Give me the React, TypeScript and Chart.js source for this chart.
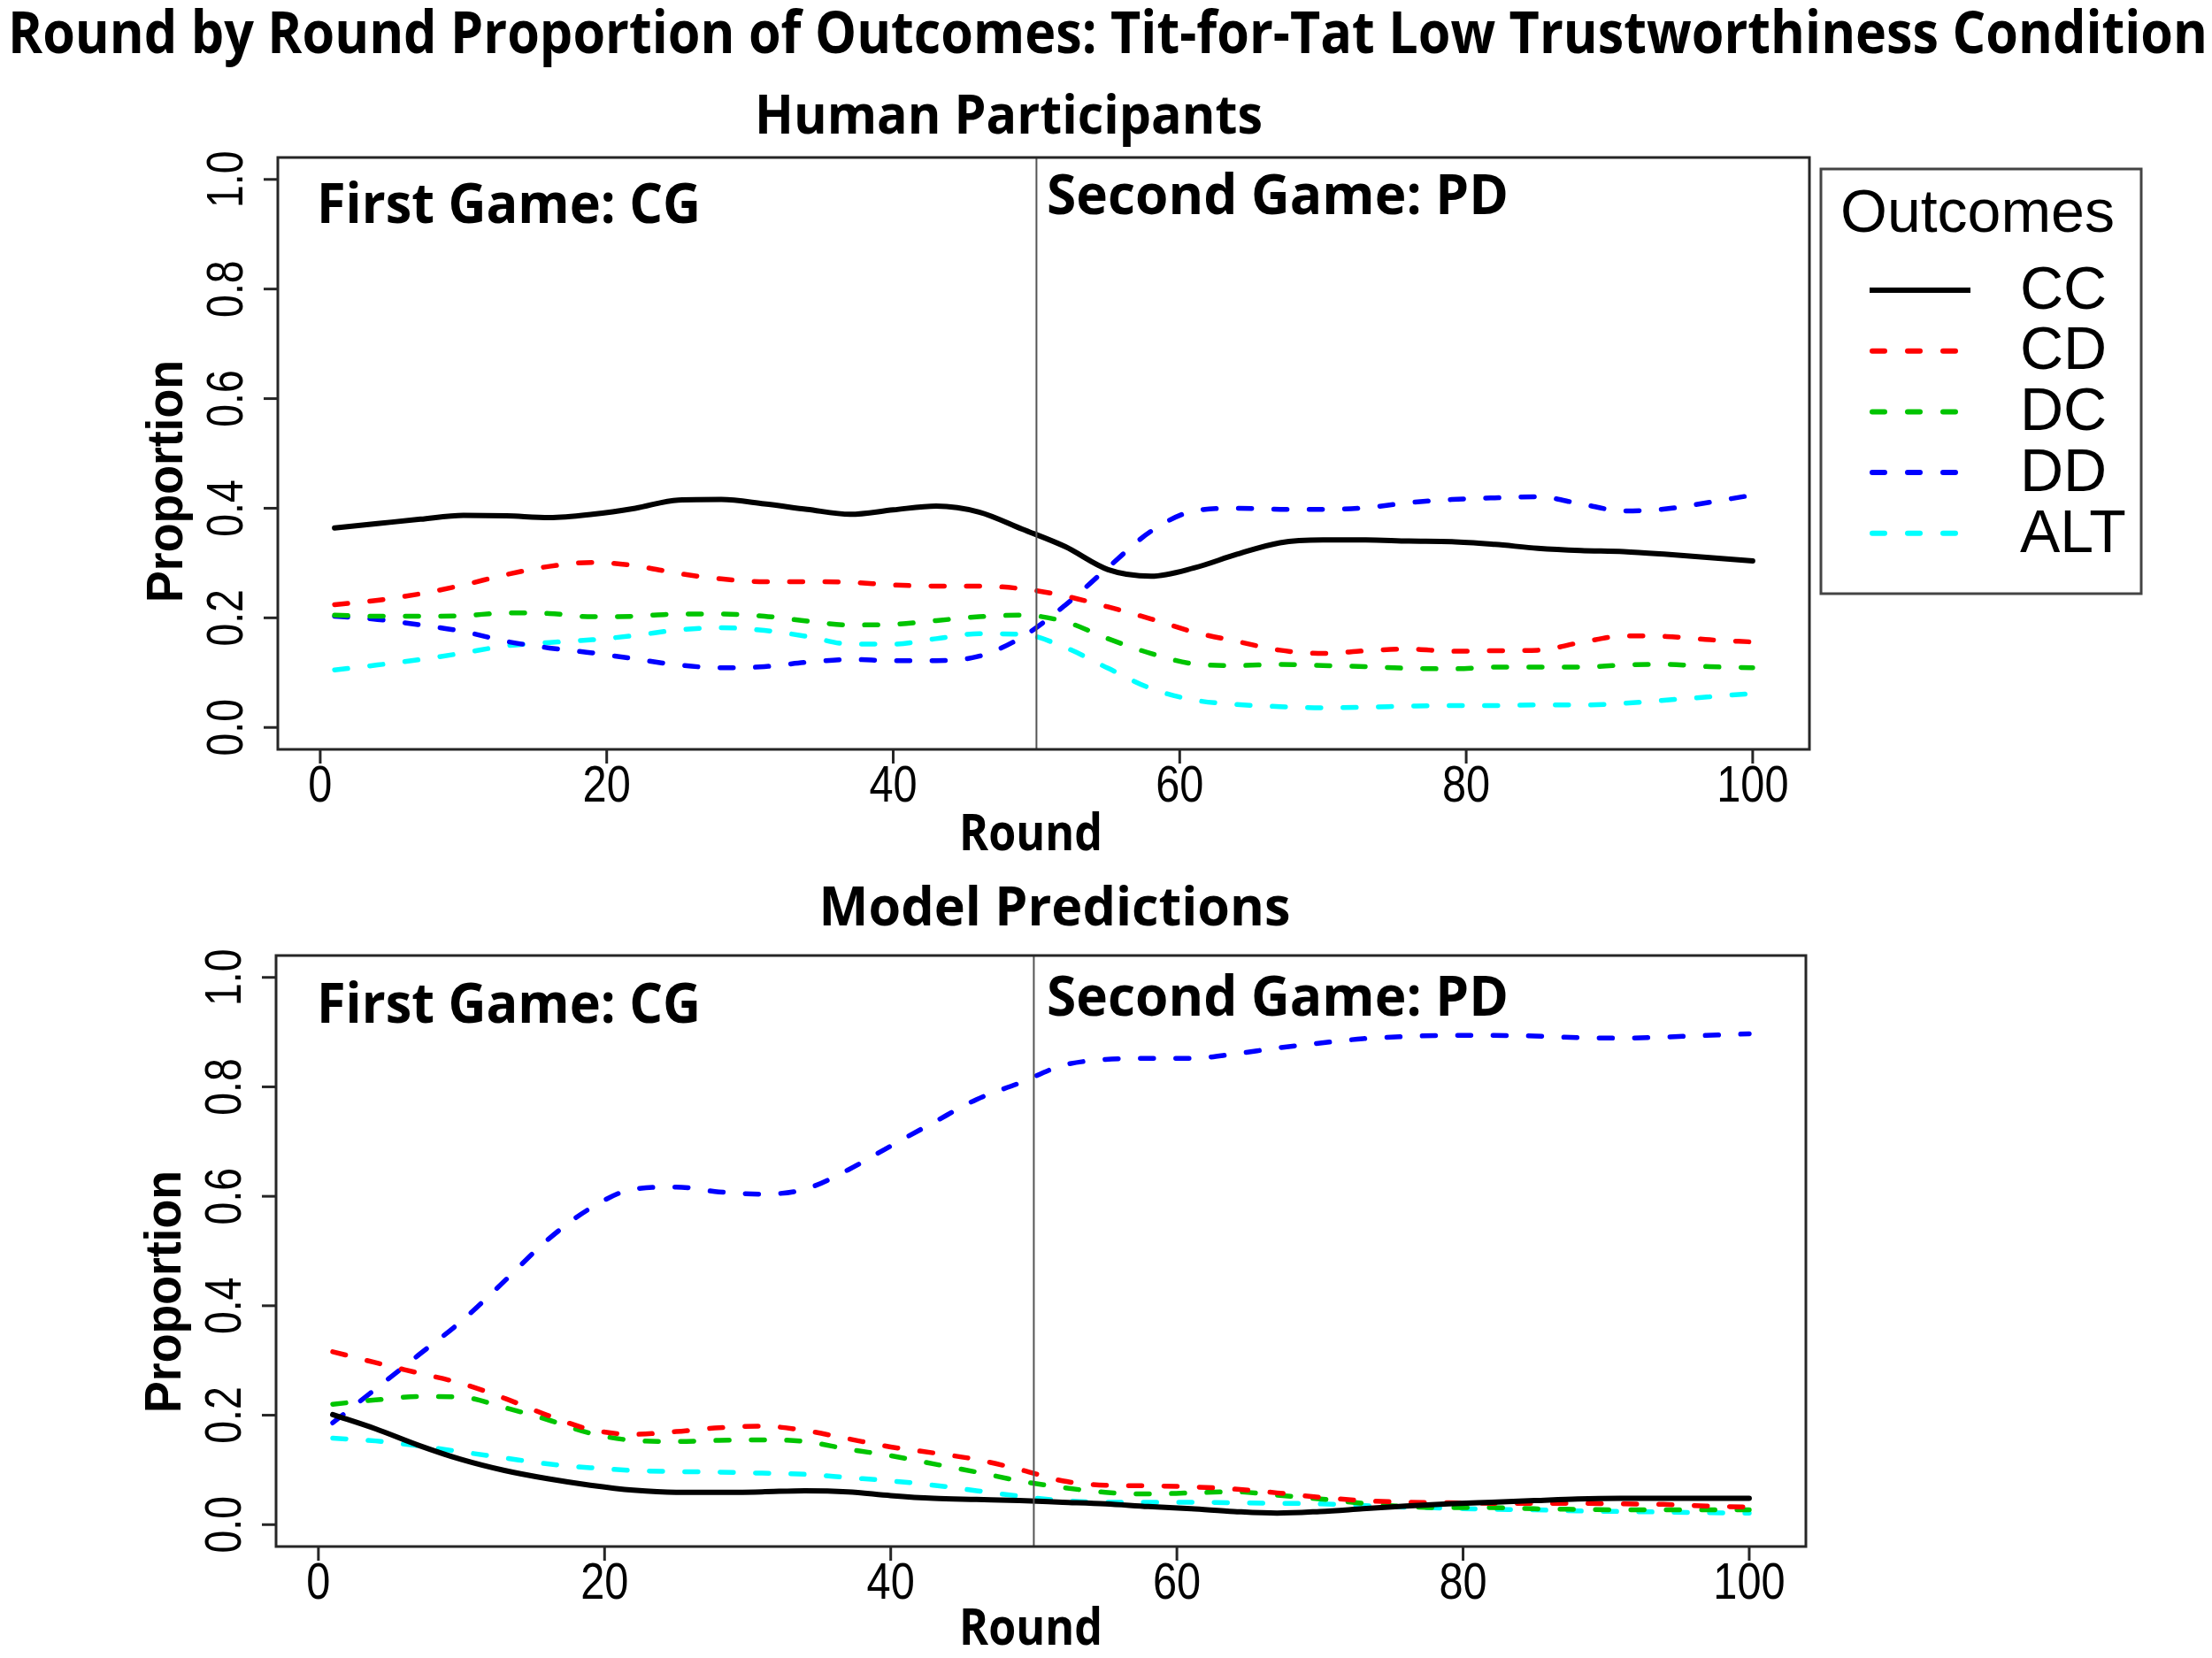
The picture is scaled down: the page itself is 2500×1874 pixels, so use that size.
import React, { useEffect, useRef } from "react";
import { Chart, registerables } from "chart.js";

Chart.register(...registerables);

// ---------------- DATA ----------------
const ROUNDS = [1, 4, 7, 10, 13, 16, 19, 22, 25, 28, 31, 34, 37, 40, 43, 46, 49, 52, 55, 58, 61, 64, 67, 70, 73, 76, 79, 82, 85, 88, 91, 94, 97, 100];

const SERIES_NAMES = ["CC", "CD", "DC", "DD", "ALT"];
const SERIES_COLORS = ["#000000", "#FF0000", "#00C400", "#0000FF", "#00FFFF"];

// Human Participants
const HUMAN_CC = [0.364, 0.372, 0.380, 0.387, 0.386, 0.383, 0.389, 0.400, 0.415, 0.416, 0.408, 0.398, 0.389, 0.397, 0.404, 0.393, 0.362, 0.330, 0.288, 0.276, 0.291, 0.316, 0.337, 0.342, 0.342, 0.340, 0.339, 0.334, 0.327, 0.323, 0.321, 0.316, 0.310, 0.304];
const HUMAN_CD = [0.224, 0.232, 0.244, 0.260, 0.279, 0.294, 0.301, 0.295, 0.281, 0.271, 0.266, 0.266, 0.265, 0.260, 0.258, 0.258, 0.253, 0.240, 0.220, 0.198, 0.174, 0.157, 0.141, 0.135, 0.140, 0.143, 0.139, 0.140, 0.141, 0.155, 0.167, 0.166, 0.160, 0.156];
const HUMAN_DC = [0.205, 0.203, 0.203, 0.204, 0.209, 0.208, 0.202, 0.203, 0.207, 0.207, 0.203, 0.194, 0.187, 0.188, 0.195, 0.202, 0.205, 0.193, 0.162, 0.135, 0.116, 0.113, 0.115, 0.113, 0.111, 0.108, 0.107, 0.110, 0.110, 0.110, 0.114, 0.115, 0.111, 0.109];
const HUMAN_DD = [0.203, 0.197, 0.187, 0.175, 0.157, 0.145, 0.136, 0.125, 0.114, 0.109, 0.111, 0.119, 0.124, 0.122, 0.122, 0.130, 0.165, 0.223, 0.292, 0.358, 0.395, 0.400, 0.398, 0.398, 0.401, 0.410, 0.416, 0.419, 0.421, 0.408, 0.395, 0.399, 0.411, 0.424];
const HUMAN_ALT = [0.105, 0.114, 0.124, 0.136, 0.149, 0.155, 0.160, 0.168, 0.178, 0.182, 0.177, 0.166, 0.152, 0.152, 0.162, 0.171, 0.170, 0.146, 0.108, 0.071, 0.050, 0.042, 0.038, 0.036, 0.037, 0.039, 0.040, 0.040, 0.041, 0.041, 0.044, 0.050, 0.056, 0.062];

// Model Predictions
const MODEL_CC = [0.201, 0.175, 0.145, 0.119, 0.099, 0.084, 0.072, 0.063, 0.059, 0.059, 0.060, 0.062, 0.060, 0.053, 0.048, 0.046, 0.044, 0.041, 0.038, 0.033, 0.029, 0.024, 0.021, 0.024, 0.029, 0.034, 0.038, 0.041, 0.044, 0.047, 0.048, 0.048, 0.048, 0.048];
const MODEL_CD = [0.316, 0.296, 0.277, 0.258, 0.231, 0.200, 0.174, 0.165, 0.170, 0.177, 0.180, 0.172, 0.157, 0.142, 0.131, 0.119, 0.101, 0.080, 0.072, 0.071, 0.069, 0.065, 0.058, 0.050, 0.044, 0.041, 0.040, 0.039, 0.039, 0.039, 0.038, 0.037, 0.034, 0.032];
const MODEL_DC = [0.220, 0.228, 0.234, 0.233, 0.214, 0.192, 0.167, 0.154, 0.152, 0.154, 0.155, 0.152, 0.138, 0.126, 0.111, 0.096, 0.080, 0.068, 0.059, 0.056, 0.058, 0.060, 0.054, 0.047, 0.039, 0.033, 0.031, 0.031, 0.029, 0.028, 0.027, 0.027, 0.027, 0.027];
const MODEL_DD = [0.186, 0.248, 0.310, 0.372, 0.445, 0.520, 0.578, 0.613, 0.617, 0.608, 0.604, 0.613, 0.648, 0.692, 0.735, 0.777, 0.807, 0.839, 0.850, 0.852, 0.852, 0.860, 0.871, 0.880, 0.888, 0.892, 0.894, 0.894, 0.893, 0.890, 0.889, 0.891, 0.894, 0.897];
const MODEL_ALT = [0.158, 0.153, 0.144, 0.133, 0.122, 0.111, 0.104, 0.099, 0.097, 0.096, 0.094, 0.092, 0.086, 0.080, 0.072, 0.062, 0.052, 0.044, 0.041, 0.041, 0.041, 0.040, 0.039, 0.038, 0.035, 0.032, 0.030, 0.028, 0.027, 0.025, 0.024, 0.023, 0.022, 0.021];

const X_TICKS = [0, 20, 40, 60, 80, 100];
const X_TICK_LABELS = ["0", "20", "40", "60", "80", "100"];
const Y_TICKS = [0, 0.2, 0.4, 0.6, 0.8, 1.0];
const Y_TICK_LABELS = ["0.0", "0.2", "0.4", "0.6", "0.8", "1.0"];
const GAME_SWITCH_ROUND = 50;

const MAIN_TITLE = "Round by Round Proportion of Outcomes: Tit-for-Tat Low Trustworthiness Condition";
const TOP_SUBTITLE = "Human Participants";
const BOTTOM_SUBTITLE = "Model Predictions";
const FIRST_GAME = "First Game: CG";
const SECOND_GAME = "Second Game: PD";
const X_TITLE = "Round";
const Y_TITLE = "Proportion";
const LEGEND_TITLE = "Outcomes";

// ---------------- STYLE ----------------
const TITLE_FONT = "'Open Sans', 'Noto Sans', sans-serif";
const AXIS_FONT = "'Liberation Sans', Arial, sans-serif";
const TITLE_WEIGHT = "bold";

function buildDatasets(series: number[][]) {
  return series.map((vals, i) => ({
    label: SERIES_NAMES[i],
    data: ROUNDS.map((r, j) => ({ x: r, y: vals[j] })),
    borderColor: SERIES_COLORS[i],
    backgroundColor: SERIES_COLORS[i],
    borderWidth: i === 0 ? 6 : 5.5,
    borderDash: i === 0 ? [] : [15, 25],
    borderCapStyle: "round" as const,
    borderJoinStyle: "round" as const,
    pointRadius: 0,
    cubicInterpolationMode: "monotone" as const,
    fill: false,
  }));
}

function fillCondensed(ctx: CanvasRenderingContext2D, text: string, x: number, y: number, ratio: number) {
  const w = ctx.measureText(text).width;
  ctx.fillText(text, x, y, w * ratio);
}

function fillFit(ctx: CanvasRenderingContext2D, text: string, x: number, y: number, maxW: number) {
  const w = ctx.measureText(text).width;
  if (w > maxW) ctx.fillText(text, x, y, maxW);
  else ctx.fillText(text, x, y);
}

type PanelLayout = {
  mainTitle?: { x: number; y: number; size: number; maxW: number };
  subTitle: { text: string; x: number; y: number; size: number; maxW: number };
  first: { x: number; y: number };
  second: { x: number; y: number };
  yTitleCenter: number;
  xTitleBaseline: number;
  legend?: boolean;
};

function makeDecor(layout: PanelLayout) {
  return {
    id: "rDecor",
    afterDatasetsDraw(chart: any) {
      const ctx: CanvasRenderingContext2D = chart.ctx;
      const ca = chart.chartArea;
      const xs = chart.scales.x;
      const ys = chart.scales.y;
      ctx.save();
      ctx.fillStyle = "#000";
      ctx.textBaseline = "alphabetic";

      // divider between games
      const xd = xs.getPixelForValue(GAME_SWITCH_ROUND);
      ctx.strokeStyle = "#555";
      ctx.lineWidth = 2;
      ctx.beginPath();
      ctx.moveTo(xd, ca.top);
      ctx.lineTo(xd, ca.bottom);
      ctx.stroke();

      // plot box
      ctx.strokeStyle = "#262626";
      ctx.lineWidth = 3;
      ctx.strokeRect(ca.left, ca.top, ca.right - ca.left, ca.bottom - ca.top);

      // x ticks
      ctx.font = `58px ${AXIS_FONT}`;
      ctx.textAlign = "center";
      X_TICKS.forEach((v, i) => {
        const px = xs.getPixelForValue(v);
        ctx.beginPath();
        ctx.moveTo(px, ca.bottom);
        ctx.lineTo(px, ca.bottom + 16);
        ctx.stroke();
        fillCondensed(ctx, X_TICK_LABELS[i], px, ca.bottom + 59, 0.84);
      });

      // y ticks (rotated labels)
      Y_TICKS.forEach((v, i) => {
        const py = ys.getPixelForValue(v);
        ctx.beginPath();
        ctx.moveTo(ca.left, py);
        ctx.lineTo(ca.left - 16, py);
        ctx.stroke();
        ctx.save();
        ctx.translate(ca.left - 40, py);
        ctx.rotate(-Math.PI / 2);
        ctx.textAlign = "center";
        fillCondensed(ctx, Y_TICK_LABELS[i], 0, 0, 0.8);
        ctx.restore();
      });

      // y title
      ctx.save();
      ctx.font = `bold 57px ${AXIS_FONT}`;
      ctx.translate(ca.left - 108, layout.yTitleCenter);
      ctx.rotate(-Math.PI / 2);
      ctx.textAlign = "center";
      fillFit(ctx, Y_TITLE, 0, 0, 274);
      ctx.restore();

      // x title
      ctx.font = `${TITLE_WEIGHT} 58px ${TITLE_FONT}`;
      ctx.textAlign = "center";
      fillFit(ctx, X_TITLE, 1165, layout.xTitleBaseline, 162);

      // titles
      if (layout.mainTitle) {
        const t = layout.mainTitle;
        ctx.font = `${TITLE_WEIGHT} ${t.size}px ${TITLE_FONT}`;
        ctx.textAlign = "center";
        fillFit(ctx, MAIN_TITLE, t.x, t.y, t.maxW);
      }
      const st = layout.subTitle;
      ctx.font = `${TITLE_WEIGHT} ${st.size}px ${TITLE_FONT}`;
      ctx.textAlign = "center";
      fillFit(ctx, st.text, st.x, st.y, st.maxW);

      // game labels
      ctx.font = `${TITLE_WEIGHT} 63px ${TITLE_FONT}`;
      ctx.textAlign = "left";
      fillFit(ctx, FIRST_GAME, layout.first.x, layout.first.y, 434);
      fillFit(ctx, SECOND_GAME, layout.second.x, layout.second.y, 522);

      // legend
      if (layout.legend) {
        const lx = 2058, ly = 191, lw = 362, lh = 480;
        ctx.strokeStyle = "#444";
        ctx.lineWidth = 3;
        ctx.strokeRect(lx, ly, lw, lh);
        ctx.font = `68px ${AXIS_FONT}`;
        ctx.textAlign = "left";
        ctx.fillText(LEGEND_TITLE, 2080, 262);
        SERIES_NAMES.forEach((name, i) => {
          const yy = 328 + i * 68.7;
          ctx.save();
          ctx.strokeStyle = SERIES_COLORS[i];
          ctx.lineWidth = 6;
          ctx.lineCap = i === 0 ? "butt" : "round";
          ctx.setLineDash(i === 0 ? [] : [14, 26]);
          ctx.beginPath();
          ctx.moveTo(i === 0 ? 2113 : 2116, yy);
          ctx.lineTo(2227, yy);
          ctx.stroke();
          ctx.restore();
          ctx.textBaseline = "middle";
          ctx.fillText(name, 2283, yy + 2);
          ctx.textBaseline = "alphabetic";
        });
      }
      ctx.restore();
    },
  };
}

function makeConfig(series: number[][], padding: any, layout: PanelLayout) {
  return {
    type: "line" as const,
    data: { datasets: buildDatasets(series) },
    options: {
      animation: false as const,
      responsive: false,
      maintainAspectRatio: false,
      events: [] as any[],
      layout: { padding },
      plugins: {
        legend: { display: false },
        tooltip: { enabled: false },
        title: { display: false },
      },
      scales: {
        x: { type: "linear" as const, min: -2.96, max: 103.96, display: false },
        y: { type: "linear" as const, min: -0.04, max: 1.04, display: false },
      },
    },
    plugins: [makeDecor(layout)],
  };
}

export default function App() {
  const topRef = useRef<HTMLCanvasElement | null>(null);
  const botRef = useRef<HTMLCanvasElement | null>(null);

  useEffect(() => {
    const charts: Chart[] = [];
    if (topRef.current) {
      charts.push(
        new Chart(
          topRef.current,
          makeConfig(
            [HUMAN_CC, HUMAN_CD, HUMAN_DC, HUMAN_DD, HUMAN_ALT],
            { left: 314, right: 455, top: 178, bottom: 143 },
            {
              mainTitle: { x: 1252, y: 60, size: 67, maxW: 2486 },
              subTitle: { text: TOP_SUBTITLE, x: 1140, y: 151, size: 60, maxW: 574 },
              first: { x: 358, y: 252 },
              second: { x: 1183, y: 242 },
              yTitleCenter: 544,
              xTitleBaseline: 961,
              legend: true,
            }
          ) as any
        )
      );
    }
    if (botRef.current) {
      charts.push(
        new Chart(
          botRef.current,
          makeConfig(
            [MODEL_CC, MODEL_CD, MODEL_DC, MODEL_DD, MODEL_ALT],
            { left: 312, right: 459, top: 90, bottom: 126 },
            {
              subTitle: { text: BOTTOM_SUBTITLE, x: 1192, y: 56, size: 60, maxW: 533 },
              first: { x: 358, y: 166 },
              second: { x: 1183, y: 158 },
              yTitleCenter: 470,
              xTitleBaseline: 869,
            }
          ) as any
        )
      );
    }
    return () => charts.forEach((c) => c.destroy());
  }, []);

  return (
    <div style={{ position: "absolute", left: 0, top: 0, width: 2500, height: 1874, background: "#fff" }}>
      <canvas ref={topRef} width={2500} height={990} style={{ position: "absolute", left: 0, top: 0, width: 2500, height: 990 }} />
      <canvas ref={botRef} width={2500} height={884} style={{ position: "absolute", left: 0, top: 990, width: 2500, height: 884 }} />
    </div>
  );
}
